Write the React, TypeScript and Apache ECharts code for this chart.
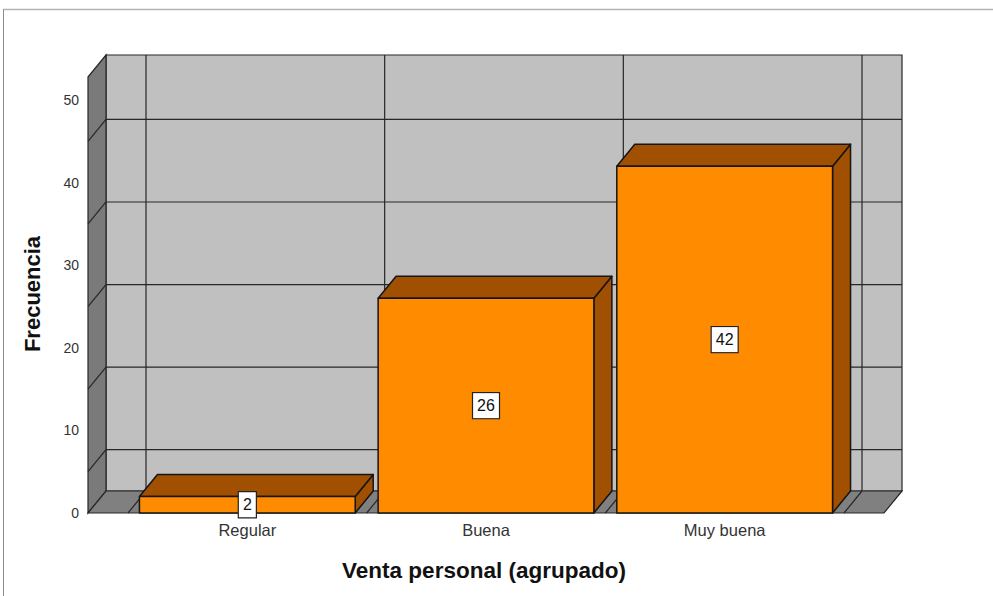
import React, { useEffect, useRef } from 'react';
import * as echarts from 'echarts';

const categories = ['Regular', 'Buena', 'Muy buena'];
const frequencies = [2, 26, 42];
const yTickValues = [0, 10, 20, 30, 40, 50];
const backGridValues = [5, 15, 25, 35, 45];
const yMax = 52.8;

const FONT = '"Liberation Sans", Arial, Helvetica, sans-serif';
const DX = 18;
const DY = -22;
const PAD = 40;
const LINE = '#262626';

export default function App() {
  const ref = useRef<HTMLDivElement>(null);

  useEffect(() => {
    if (!ref.current) return;
    const chart = echarts.init(ref.current, null, { renderer: 'svg' });
    const n = categories.length;

    const walls = (params: any, api: any) => {
      const cw = api.size([1, 0])[0];
      const c0 = api.coord([0, 0]);
      const cTop = api.coord([0, yMax]);
      const xL = c0[0] - cw / 2 - PAD;
      const xR = api.coord([n - 1, 0])[0] + cw / 2 + PAD;
      const yB = c0[1];
      const yT = cTop[1];
      const children: any[] = [];
      children.push({
        type: 'rect',
        shape: { x: xL + DX, y: yT + DY, width: xR - xL, height: yB - yT },
        style: { fill: '#c0c0c0', stroke: LINE, lineWidth: 1.2 },
      });
      children.push({
        type: 'polygon',
        shape: { points: [[xL, yT], [xL + DX, yT + DY], [xL + DX, yB + DY], [xL, yB]] },
        style: { fill: '#7a7a7a', stroke: LINE, lineWidth: 1.2 },
      });
      children.push({
        type: 'polygon',
        shape: { points: [[xL, yB], [xR, yB], [xR + DX, yB + DY], [xL + DX, yB + DY]] },
        style: { fill: '#808080', stroke: LINE, lineWidth: 1.2 },
      });
      backGridValues.forEach((v) => {
        const y = api.coord([0, v])[1];
        children.push({
          type: 'line',
          shape: { x1: xL + DX, y1: y + DY, x2: xR + DX, y2: y + DY },
          style: { stroke: LINE, lineWidth: 1.2 },
        });
        children.push({
          type: 'line',
          shape: { x1: xL, y1: y, x2: xL + DX, y2: y + DY },
          style: { stroke: LINE, lineWidth: 1.2 },
        });
      });
      for (let i = 0; i <= n; i++) {
        const bx = c0[0] - cw / 2 + i * cw;
        children.push({
          type: 'line',
          shape: { x1: bx + DX, y1: yT + DY, x2: bx + DX, y2: yB + DY },
          style: { stroke: LINE, lineWidth: 1.2 },
        });
        children.push({
          type: 'line',
          shape: { x1: bx, y1: yB, x2: bx + DX, y2: yB + DY },
          style: { stroke: LINE, lineWidth: 1.2 },
        });
      }
      return { type: 'group', children };
    };

    const bars = (params: any, api: any) => {
      const i = api.value(0);
      const v = api.value(1);
      const cw = api.size([1, 0])[0];
      const base = api.coord([i, 0]);
      const top = api.coord([i, v]);
      const w = cw * 0.904;
      const l = base[0] - w / 2;
      const r = base[0] + w / 2;
      const yb = base[1];
      const yt = top[1];
      const edge = { stroke: '#151515', lineWidth: 1.5, lineJoin: 'round' };
      return {
        type: 'group',
        children: [
          {
            type: 'polygon',
            shape: { points: [[r, yt], [r + DX, yt + DY], [r + DX, yb + DY], [r, yb]] },
            style: { fill: '#a05000', ...edge },
          },
          {
            type: 'polygon',
            shape: { points: [[l, yt], [l + DX, yt + DY], [r + DX, yt + DY], [r, yt]] },
            style: { fill: '#a05000', ...edge },
          },
          {
            type: 'rect',
            shape: { x: l, y: yt, width: w, height: yb - yt },
            style: { fill: '#ff8c00', ...edge },
          },
          {
            type: 'text',
            x: base[0],
            y: (yb + yt) / 2,
            style: {
              text: String(v),
              fontSize: 16,
              fontFamily: FONT,
              fill: '#111',
              align: 'center',
              verticalAlign: 'middle',
              backgroundColor: '#ffffff',
              borderColor: '#222',
              borderWidth: 1.2,
              padding: [4, 4, 4, 4],
              lineHeight: 17,
            },
          },
        ],
      };
    };

    chart.setOption({
      animation: false,
      grid: { left: 128, right: 149, top: 77, bottom: 83 },
      xAxis: {
        type: 'category',
        data: categories,
        axisLine: { show: false },
        axisTick: { show: false },
        splitLine: { show: false },
        axisLabel: { fontSize: 16.5, color: '#333', margin: 8, fontFamily: FONT },
      },
      yAxis: {
        type: 'value',
        min: 0,
        max: yMax,
        interval: 10,
        axisLine: { show: false },
        axisTick: { show: false },
        splitLine: { show: false },
        axisLabel: {
          fontSize: 14,
          color: '#333',
          margin: 49,
          fontFamily: FONT,
          showMaxLabel: false,
          formatter: (val: number) => (yTickValues.includes(val) ? String(val) : ''),
        },
      },
      series: [
        { type: 'custom', data: [[0, 0]], renderItem: walls, z: 1, silent: true },
        {
          type: 'custom',
          data: frequencies.map((v, i) => [i, v]),
          encode: { x: 0, y: 1 },
          renderItem: bars,
          z: 2,
        },
      ],
      graphic: [
        {
          type: 'line',
          shape: { x1: 3, y1: 9.5, x2: 993, y2: 9.5 },
          style: { stroke: '#b4b4b4', lineWidth: 1.5 },
        },
        {
          type: 'line',
          shape: { x1: 3.5, y1: 9.5, x2: 3.5, y2: 596 },
          style: { stroke: '#8c8c8c', lineWidth: 1 },
        },
        {
          type: 'text',
          x: 484,
          y: 570,
          style: {
            text: 'Venta personal (agrupado)',
            fontSize: 22.5,
            fontWeight: 'bold',
            fontFamily: FONT,
            fill: '#111',
            align: 'center',
            verticalAlign: 'middle',
          },
        },
        {
          type: 'text',
          x: 32,
          y: 294,
          rotation: Math.PI / 2,
          style: {
            text: 'Frecuencia',
            fontSize: 22,
            fontWeight: 'bold',
            fontFamily: FONT,
            fill: '#111',
            align: 'center',
            verticalAlign: 'middle',
          },
        },
      ],
    });

    return () => chart.dispose();
  }, []);

  return (
    <div
      ref={ref}
      style={{ position: 'fixed', left: 0, top: 0, width: '993px', height: '596px', background: '#fff' }}
    />
  );
}
